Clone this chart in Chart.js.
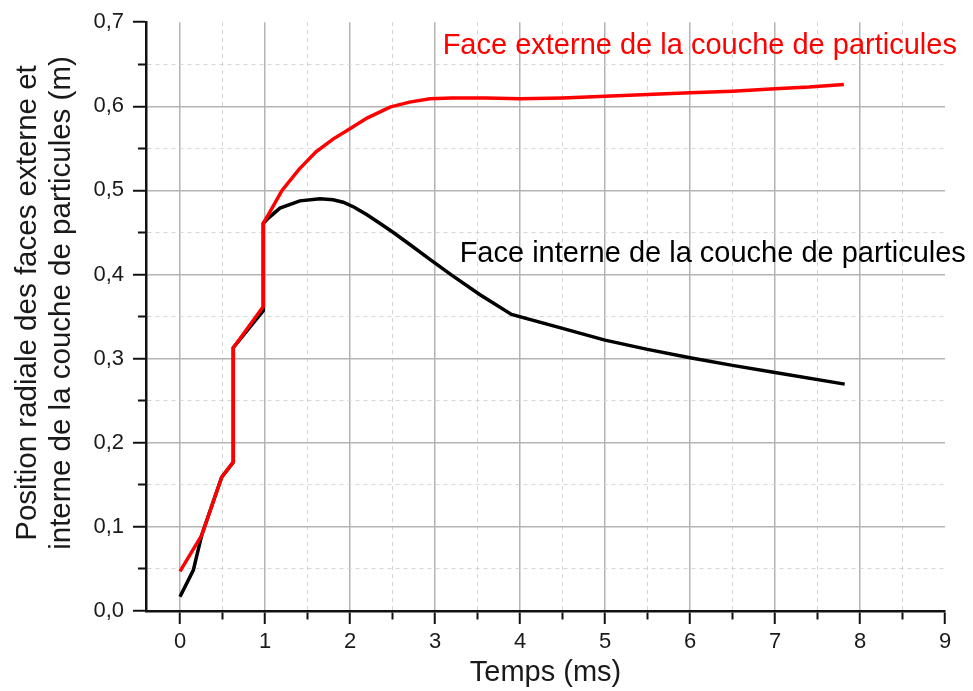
<!DOCTYPE html>
<html>
<head>
<meta charset="utf-8">
<script src="https://cdn.jsdelivr.net/npm/chart.js@4.4.1/dist/chart.umd.min.js"></script>
<style>
html, body { margin: 0; padding: 0; background: #fff; }
</style>
</head>
<body>
<canvas id="chart" width="973" height="691"></canvas>
<script>
// face externe (red)
var externeX = [0, 0.255, 0.49, 0.627, 0.627, 0.98, 0.98, 1.05, 1.2, 1.4, 1.6, 1.8, 1.98, 2.2, 2.47, 2.7, 2.94, 3.2, 3.6, 4.0, 4.5, 5.0, 5.5, 6.0, 6.5, 7.0, 7.4, 7.81];
var externeY = [0.047, 0.090, 0.159, 0.177, 0.313, 0.362, 0.461, 0.473, 0.500, 0.525, 0.546, 0.561, 0.572, 0.586, 0.599, 0.605, 0.609, 0.610, 0.610, 0.609, 0.610, 0.612, 0.614, 0.616, 0.618, 0.621, 0.623, 0.626];
// face interne (black)
var interneX = [0, 0.157, 0.255, 0.49, 0.627, 0.627, 0.98, 0.98, 1.05, 1.176, 1.41, 1.647, 1.8, 1.92, 2.05, 2.2, 2.35, 2.51, 2.7, 2.94, 3.2, 3.53, 3.90, 4.5, 5.0, 5.5, 6.0, 6.5, 7.0, 7.82];
var interneY = [0.017, 0.0486, 0.090, 0.159, 0.177, 0.313, 0.357, 0.461, 0.468, 0.479, 0.4876, 0.490, 0.489, 0.486, 0.480, 0.471, 0.461, 0.450, 0.436, 0.418, 0.399, 0.376, 0.3526, 0.336, 0.322, 0.311, 0.301, 0.292, 0.2835, 0.2697];

var seriesNames = ["Face externe de la couche de particules", "Face interne de la couche de particules"];
var labelAnchorX = [3.09, 3.29];
var labelAnchorY = [0.672, 0.425];
var xTitle = "Temps (ms)";
var yTitle = ["Position radiale des faces externe et", "interne de la couche de particules (m)"];

var FONT = "'Liberation Sans', Arial, sans-serif";

function toPoints(xs, ys) {
    var pts = [];
    for (var i = 0; i < xs.length; i++) {
        pts.push({ x: xs[i], y: ys[i] });
    }
    return pts;
}

function isMajorX(v) { return Math.abs(v - Math.round(v)) < 1e-6; }
function isMajorY(v) { return Math.abs(v * 10 - Math.round(v * 10)) < 1e-6; }

// text labels next to the curves + the two-line y title
var curveLabels = {
    id: "curveLabels",
    afterDatasetsDraw: function (chart) {
        var ctx = chart.ctx;
        var xs = chart.scales.x, ys = chart.scales.y;
        var colors = ["#ff0000", "#000000"];
        ctx.save();
        ctx.font = "29px " + FONT;
        ctx.textAlign = "left";
        ctx.textBaseline = "middle";
        for (var i = 0; i < seriesNames.length; i++) {
            ctx.fillStyle = colors[i];
            ctx.fillText(seriesNames[i], xs.getPixelForValue(labelAnchorX[i]), ys.getPixelForValue(labelAnchorY[i]));
        }
        ctx.restore();

        ctx.save();
        ctx.font = "29.5px " + FONT;
        ctx.fillStyle = "#1a1a1a";
        ctx.textAlign = "center";
        ctx.textBaseline = "middle";
        ctx.translate(28, 303);
        ctx.rotate(-Math.PI / 2);
        ctx.fillText(yTitle[0], 0, 0);
        ctx.fillText(yTitle[1], 0, 34);
        ctx.restore();
    }
};

var chart = new Chart(document.getElementById("chart"), {
    type: "scatter",
    data: {
        datasets: [
            {
                label: seriesNames[0],
                data: toPoints(externeX, externeY),
                showLine: true,
                borderColor: "#ff0000",
                borderWidth: 3.5,
                pointRadius: 0,
                tension: 0
            },
            {
                label: seriesNames[1],
                data: toPoints(interneX, interneY),
                showLine: true,
                borderColor: "#000000",
                borderWidth: 3.5,
                pointRadius: 0,
                tension: 0
            }
        ]
    },
    options: {
        responsive: false,
        animation: false,
        layout: { padding: { top: 20, right: 28, left: 0, bottom: 0 } },
        plugins: {
            legend: { display: false },
            tooltip: { enabled: false }
        },
        scales: {
            x: {
                type: "linear",
                min: -0.4,
                max: 9,
                afterFit: function (scale) { scale.height = 80; },
                ticks: {
                    stepSize: 0.5,
                    includeBounds: false,
                    autoSkip: false,
                    maxRotation: 0,
                    padding: 5,
                    color: "#1a1a1a",
                    font: { family: FONT, size: 22 },
                    callback: function (v) { return isMajorX(v) ? String(Math.round(v)) : ""; }
                },
                grid: {
                    color: function (c) {
                        if (!c.tick) return "#b0b0b0";
                        if (c.tick.value >= 9) return "rgba(0,0,0,0)";
                        return isMajorX(c.tick.value) ? "#b4b4b4" : "#d4d4d4";
                    },
                    lineWidth: function (c) { return c.tick && isMajorX(c.tick.value) ? 1.5 : 1; },
                    tickLength: 13,
                    tickWidth: 2,
                    tickColor: "#111",
                    tickBorderDash: function (c) { return c.tick && !isMajorX(c.tick.value) ? [7, 100] : []; }
                },
                border: {
                    color: "#111",
                    width: 2.5,
                    dash: function (c) { return c.tick && !isMajorX(c.tick.value) ? [4, 4] : []; }
                },
                title: {
                    display: true,
                    text: xTitle,
                    color: "#1a1a1a",
                    font: { family: FONT, size: 29, lineHeight: 1.2 },
                    padding: { top: 0, bottom: 1 }
                }
            },
            y: {
                type: "linear",
                min: 0,
                max: 0.7,
                afterFit: function (scale) { scale.width = 146; },
                ticks: {
                    stepSize: 0.05,
                    autoSkip: false,
                    padding: 9,
                    color: "#1a1a1a",
                    font: { family: FONT, size: 22 },
                    callback: function (v) { return isMajorY(v) ? v.toFixed(1).replace(".", ",") : ""; }
                },
                grid: {
                    color: function (c) {
                        if (!c.tick) return "#b0b0b0";
                        if (c.tick.value >= 0.699) return "rgba(0,0,0,0)";
                        return isMajorY(c.tick.value) ? "#b4b4b4" : "#d4d4d4";
                    },
                    lineWidth: function (c) { return c.tick && isMajorY(c.tick.value) ? 1.5 : 1; },
                    tickLength: 13,
                    tickWidth: 2,
                    tickColor: "#111",
                    tickBorderDash: function (c) { return c.tick && !isMajorY(c.tick.value) ? [0, 5, 10, 100] : []; }
                },
                border: {
                    color: "#111",
                    width: 2.5,
                    dash: function (c) { return c.tick && !isMajorY(c.tick.value) ? [4, 4] : []; }
                },
                title: { display: false }
            }
        }
    },
    plugins: [curveLabels]
});
</script>
</body>
</html>
